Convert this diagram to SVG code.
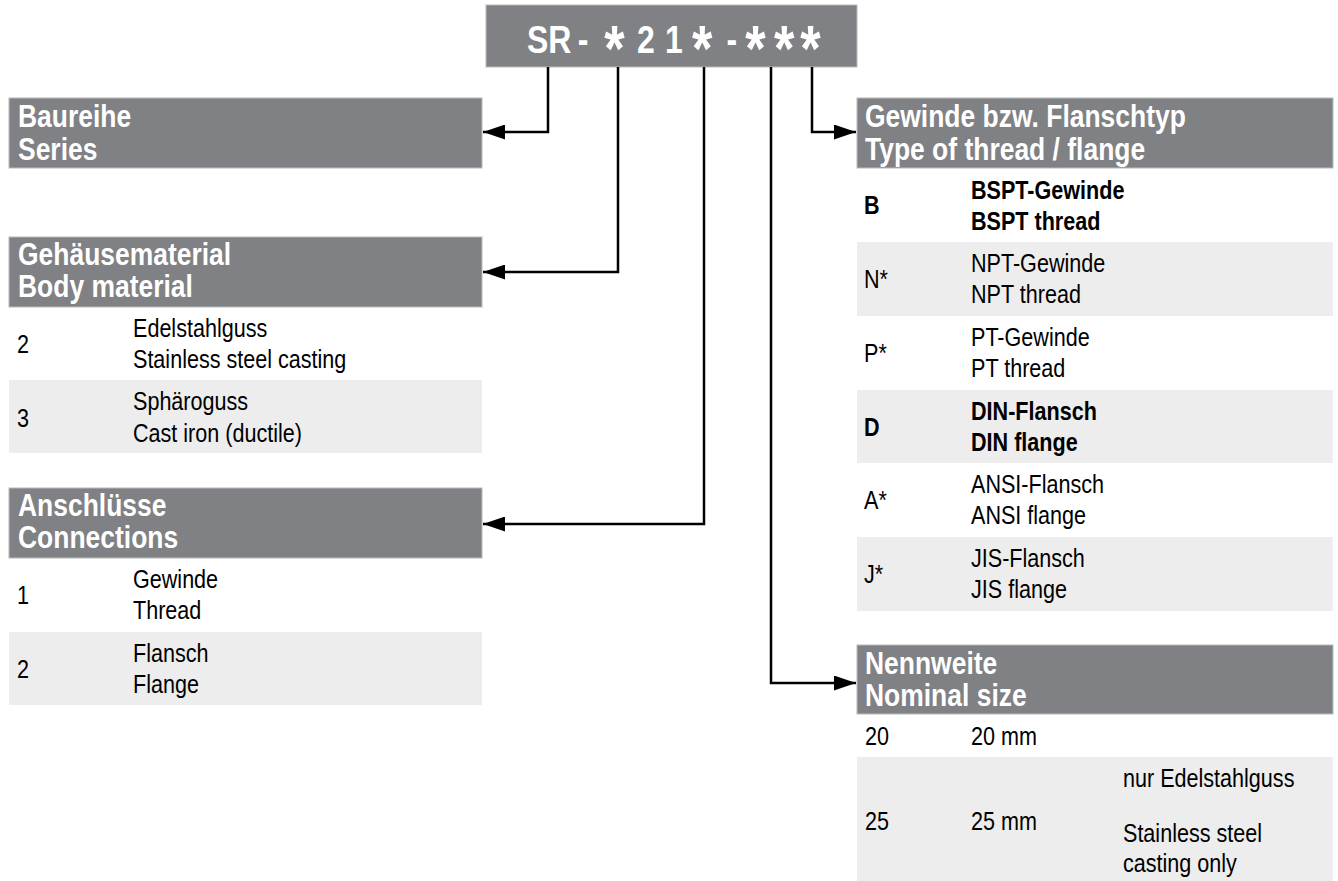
<svg xmlns="http://www.w3.org/2000/svg" width="1338" height="881" viewBox="0 0 1338 881">
<defs>
<style>
.hdr{fill:#808184;stroke:#b9babc;stroke-width:1}
.row{fill:#ededed}
.ht{font-family:'Liberation Sans',Arial,sans-serif;font-weight:bold;font-size:31.5px;fill:#ffffff}
.t{font-family:'Liberation Sans',Arial,sans-serif;font-size:26px;fill:#000000}
.tb{font-weight:bold}
.top{font-family:'Liberation Sans',Arial,sans-serif;font-weight:bold;font-size:39px;fill:#ffffff}
.ast{font-size:64px}
.conn{fill:none;stroke:#000000;stroke-width:2.5}
</style>
<marker id="arr" markerUnits="userSpaceOnUse" markerWidth="22" markerHeight="15" refX="22" refY="7.5" orient="auto">
<path d="M0,0 L22,7.5 L0,15 z" fill="#000000"/>
</marker>
</defs>
<rect width="1338" height="881" fill="#ffffff"/>

<g id="code">
<rect class="hdr" x="486" y="5" width="371" height="62"/>
<text class="top" transform="scale(0.82 1)"><tspan x="642.7" y="53">SR</tspan> <tspan x="704.5" y="53">-</tspan> <tspan class="ast" x="737" y="71">*</tspan> <tspan x="776.8" y="53">2</tspan> <tspan x="811" y="53">1</tspan> <tspan class="ast" x="844" y="71">*</tspan> <tspan x="886" y="53">-</tspan> <tspan class="ast" x="909" y="71">*</tspan> <tspan class="ast" x="944" y="71">*</tspan> <tspan class="ast" x="976" y="71">*</tspan></text>
</g>

<g id="baureihe">
<rect class="hdr" x="9" y="98" width="473" height="70"/>
<text class="ht" transform="translate(18 127) scale(0.84 1)">Baureihe</text>
<text class="ht" transform="translate(18 160) scale(0.84 1)">Series</text>
</g>

<g id="gehaeuse">
<rect class="hdr" x="9" y="237" width="473" height="70"/>
<text class="ht" transform="translate(18 265) scale(0.84 1)">Gehäusematerial</text>
<text class="ht" transform="translate(18 297) scale(0.84 1)">Body material</text>
<rect class="row" x="9" y="380" width="473" height="73"/>
<text class="t" transform="translate(17 353) scale(0.83 1)">2</text>
<text class="t" transform="translate(133 337) scale(0.83 1)">Edelstahlguss</text>
<text class="t" transform="translate(133 368) scale(0.83 1)">Stainless steel casting</text>
<text class="t" transform="translate(17 427) scale(0.83 1)">3</text>
<text class="t" transform="translate(133 410) scale(0.83 1)">Sphäroguss</text>
<text class="t" transform="translate(133 442) scale(0.83 1)">Cast iron (ductile)</text>
</g>

<g id="anschluesse">
<rect class="hdr" x="9" y="488" width="473" height="70"/>
<text class="ht" transform="translate(18 516) scale(0.84 1)">Anschlüsse</text>
<text class="ht" transform="translate(18 548) scale(0.84 1)">Connections</text>
<rect class="row" x="9" y="632" width="473" height="73"/>
<text class="t" transform="translate(17 604) scale(0.83 1)">1</text>
<text class="t" transform="translate(133 588) scale(0.83 1)">Gewinde</text>
<text class="t" transform="translate(133 619) scale(0.83 1)">Thread</text>
<text class="t" transform="translate(17 678) scale(0.83 1)">2</text>
<text class="t" transform="translate(133 662) scale(0.83 1)">Flansch</text>
<text class="t" transform="translate(133 693) scale(0.83 1)">Flange</text>
</g>

<g id="gewinde">
<rect class="hdr" x="857" y="98" width="476" height="70"/>
<text class="ht" transform="translate(865 127) scale(0.84 1)">Gewinde bzw. Flanschtyp</text>
<text class="ht" transform="translate(865 160) scale(0.84 1)">Type of thread / flange</text>
<rect class="row" x="857" y="242" width="476" height="74"/>
<rect class="row" x="857" y="390" width="476" height="73"/>
<rect class="row" x="857" y="537" width="476" height="74"/>
<text class="t tb" transform="translate(864 214) scale(0.83 1)">B</text>
<text class="t tb" transform="translate(971 199) scale(0.83 1)">BSPT-Gewinde</text>
<text class="t tb" transform="translate(971 230) scale(0.83 1)">BSPT thread</text>
<text class="t" transform="translate(864 288) scale(0.83 1)">N*</text>
<text class="t" transform="translate(971 272) scale(0.83 1)">NPT-Gewinde</text>
<text class="t" transform="translate(971 303) scale(0.83 1)">NPT thread</text>
<text class="t" transform="translate(864 362) scale(0.83 1)">P*</text>
<text class="t" transform="translate(971 346) scale(0.83 1)">PT-Gewinde</text>
<text class="t" transform="translate(971 377) scale(0.83 1)">PT thread</text>
<text class="t tb" transform="translate(864 436) scale(0.83 1)">D</text>
<text class="t tb" transform="translate(971 420) scale(0.83 1)">DIN-Flansch</text>
<text class="t tb" transform="translate(971 451) scale(0.83 1)">DIN flange</text>
<text class="t" transform="translate(864 509) scale(0.83 1)">A*</text>
<text class="t" transform="translate(971 493) scale(0.83 1)">ANSI-Flansch</text>
<text class="t" transform="translate(971 524) scale(0.83 1)">ANSI flange</text>
<text class="t" transform="translate(864 583) scale(0.83 1)">J*</text>
<text class="t" transform="translate(971 567) scale(0.83 1)">JIS-Flansch</text>
<text class="t" transform="translate(971 598) scale(0.83 1)">JIS flange</text>
</g>

<g id="nennweite">
<rect class="hdr" x="857" y="645" width="476" height="69"/>
<text class="ht" transform="translate(865 674) scale(0.84 1)">Nennweite</text>
<text class="ht" transform="translate(865 706) scale(0.84 1)">Nominal size</text>
<text class="t" transform="translate(865 745) scale(0.83 1)">20</text>
<text class="t" transform="translate(971 745) scale(0.83 1)">20 mm</text>
<rect class="row" x="857" y="757" width="476" height="124"/>
<text class="t" transform="translate(865 830) scale(0.83 1)">25</text>
<text class="t" transform="translate(971 830) scale(0.83 1)">25 mm</text>
<text class="t" transform="translate(1123 787) scale(0.83 1)">nur Edelstahlguss</text>
<text class="t" transform="translate(1123 842) scale(0.83 1)">Stainless steel</text>
<text class="t" transform="translate(1123 872) scale(0.83 1)">casting only</text>
</g>

<g id="connectors">
<path class="conn" d="M548,67 V132 H483" marker-end="url(#arr)"/>
<path class="conn" d="M618,67 V272 H483" marker-end="url(#arr)"/>
<path class="conn" d="M704,67 V524 H483" marker-end="url(#arr)"/>
<path class="conn" d="M771,67 V683 H856" marker-end="url(#arr)"/>
<path class="conn" d="M812,67 V132 H856" marker-end="url(#arr)"/>
</g>
</svg>
